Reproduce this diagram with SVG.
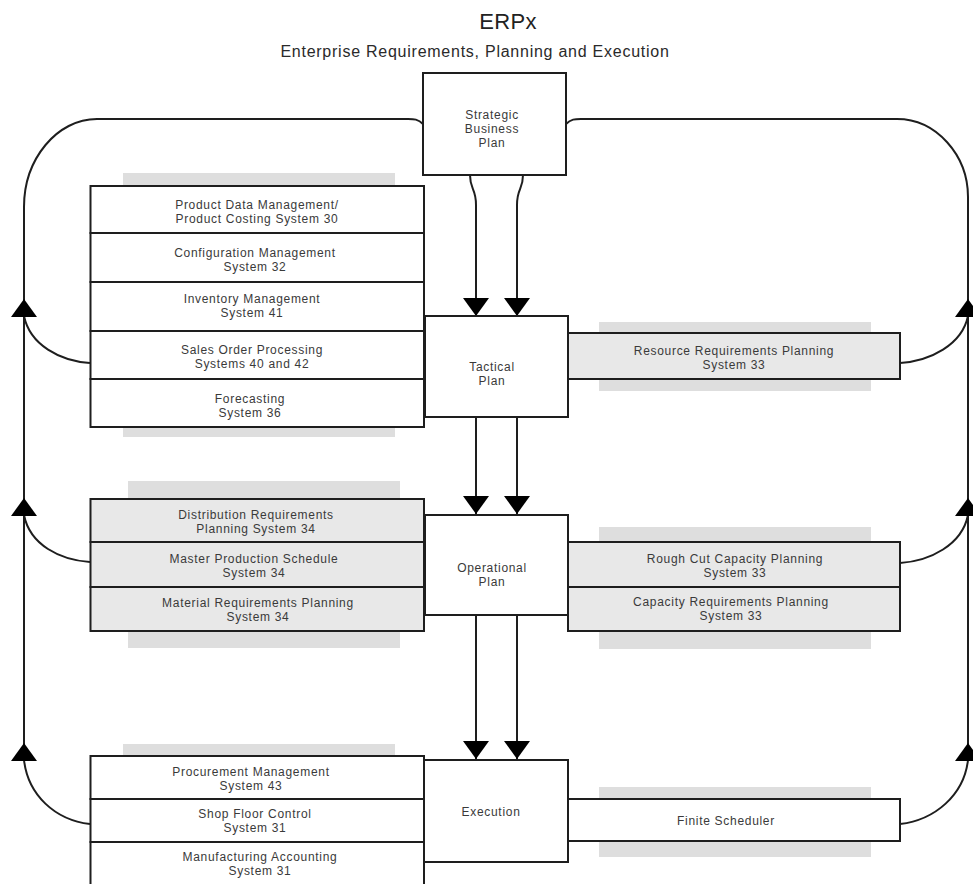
<svg xmlns="http://www.w3.org/2000/svg" width="973" height="884" viewBox="0 0 973 884">
  <style>
    .box{stroke:#1e1e1e;stroke-width:2}
    .w{fill:#ffffff}
    .g{fill:#e8e8e8}
    .sh{fill:#dedede;stroke:none}
    .t{font-family:"Liberation Sans",Arial,sans-serif;font-size:12px;fill:#3a3a3a;text-anchor:middle;letter-spacing:0.7px}
    .wire{fill:none;stroke:#1e1e1e;stroke-width:2}
    .head{fill:#000000}
  </style>
  <defs>
    <marker id="arrow" markerUnits="userSpaceOnUse" viewBox="0 -13 18 26" refX="18" refY="0" markerWidth="18" markerHeight="26" orient="auto">
      <path class="head" d="M0,-13 L18,0 L0,13 Z"/>
    </marker>
  </defs>

  <rect x="0" y="0" width="973" height="884" fill="#ffffff"/>

  <!-- heading -->
  <g id="heading">
    <text x="508" y="29" style="font-family:'Liberation Sans',Arial,sans-serif;font-size:22px;fill:#222;text-anchor:middle;letter-spacing:0.3px">ERPx</text>
    <text x="475" y="57" style="font-family:'Liberation Sans',Arial,sans-serif;font-size:16px;fill:#2a2a2a;text-anchor:middle;letter-spacing:0.75px">Enterprise Requirements, Planning and Execution</text>
  </g>

  <!-- drop shadows behind the side stacks -->
  <g id="shadows">
    <rect class="sh" x="123" y="173" width="272" height="264"/>
    <rect class="sh" x="599" y="322" width="272" height="69"/>
    <rect class="sh" x="128" y="481" width="272" height="167"/>
    <rect class="sh" x="599" y="527" width="272" height="122"/>
    <rect class="sh" x="123" y="744" width="272" height="150"/>
    <rect class="sh" x="599" y="787" width="272" height="70"/>
  </g>

  <!-- connectors -->
  <g id="connectors">
    <!-- feedback loop around the plan levels -->
    <path class="wire" d="M423,124 C418,119 414,119 408,119 L97,119 C57,119 24,159 24,207 L24,745"/>
    <path class="wire" d="M566,124 C571,119 575,119 581,119 L897,119 C936,119 968,155 968,197 L968,745"/>
    <!-- side systems feeding the loop -->
    <path class="wire" marker-end="url(#arrow)" d="M90,363 C60,361 30,345 24,316 L24,299"/>
    <path class="wire" marker-end="url(#arrow)" d="M90,562 C60,560 30,545 24,515 L24,498"/>
    <path class="wire" marker-end="url(#arrow)" d="M90,824 C55,820 28,795 24,760 L24,743"/>
    <path class="wire" marker-end="url(#arrow)" d="M900,363 C930,361 962,345 968,316 L968,299"/>
    <path class="wire" marker-end="url(#arrow)" d="M900,563 C930,561 962,545 968,515 L968,498"/>
    <path class="wire" marker-end="url(#arrow)" d="M900,824 C935,820 964,795 968,760 L968,743"/>
    <!-- plan cascade -->
    <path class="wire" marker-end="url(#arrow)" d="M470,175 C470,190 476,188 476,205 L476,316"/>
    <path class="wire" marker-end="url(#arrow)" d="M523,175 C523,190 517,188 517,205 L517,316"/>
    <path class="wire" marker-end="url(#arrow)" d="M476,417 L476,514"/>
    <path class="wire" marker-end="url(#arrow)" d="M517,417 L517,514"/>
    <path class="wire" marker-end="url(#arrow)" d="M476,615 L476,759"/>
    <path class="wire" marker-end="url(#arrow)" d="M517,615 L517,759"/>
  </g>

  <!-- tactical-level systems (left) -->
  <g id="pdm">
    <rect class="box w" x="90.5" y="186" width="333.5" height="47"/>
    <text class="t" x="257" y="209">Product Data Management/</text>
    <text class="t" x="257" y="223">Product Costing System 30</text>
  </g>
  <g id="config">
    <rect class="box w" x="90.5" y="233" width="333.5" height="49"/>
    <text class="t" x="255" y="257">Configuration Management</text>
    <text class="t" x="255" y="271">System 32</text>
  </g>
  <g id="inventory">
    <rect class="box w" x="90.5" y="282" width="333.5" height="49"/>
    <text class="t" x="252" y="303">Inventory Management</text>
    <text class="t" x="252" y="317">System 41</text>
  </g>
  <g id="sales">
    <rect class="box w" x="90.5" y="331" width="333.5" height="48"/>
    <text class="t" x="252" y="354">Sales Order Processing</text>
    <text class="t" x="252" y="368">Systems 40 and 42</text>
  </g>
  <g id="forecasting">
    <rect class="box w" x="90.5" y="379" width="333.5" height="48"/>
    <text class="t" x="250" y="403">Forecasting</text>
    <text class="t" x="250" y="417">System 36</text>
  </g>

  <!-- operational-level systems (left) -->
  <g id="drp">
    <rect class="box g" x="90.5" y="499" width="333.5" height="43"/>
    <text class="t" x="256" y="519">Distribution Requirements</text>
    <text class="t" x="256" y="533">Planning System 34</text>
  </g>
  <g id="mps">
    <rect class="box g" x="90.5" y="542" width="333.5" height="45"/>
    <text class="t" x="254" y="563">Master Production Schedule</text>
    <text class="t" x="254" y="577">System 34</text>
  </g>
  <g id="mrp">
    <rect class="box g" x="90.5" y="587" width="333.5" height="44"/>
    <text class="t" x="258" y="607">Material Requirements Planning</text>
    <text class="t" x="258" y="621">System 34</text>
  </g>

  <!-- execution-level systems (left) -->
  <g id="procurement">
    <rect class="box w" x="90.5" y="756" width="333.5" height="43"/>
    <text class="t" x="251" y="776">Procurement Management</text>
    <text class="t" x="251" y="790">System 43</text>
  </g>
  <g id="shopfloor">
    <rect class="box w" x="90.5" y="799" width="333.5" height="43"/>
    <text class="t" x="255" y="818">Shop Floor Control</text>
    <text class="t" x="255" y="832">System 31</text>
  </g>
  <g id="accounting">
    <rect class="box w" x="90.5" y="842" width="333.5" height="44"/>
    <text class="t" x="260" y="861">Manufacturing Accounting</text>
    <text class="t" x="260" y="875">System 31</text>
  </g>

  <!-- right-hand systems -->
  <g id="resource">
    <rect class="box g" x="568" y="333" width="332" height="46"/>
    <text class="t" x="734" y="355">Resource Requirements Planning</text>
    <text class="t" x="734" y="369">System 33</text>
  </g>
  <g id="roughcut">
    <rect class="box g" x="568" y="542" width="332" height="45"/>
    <text class="t" x="735" y="563">Rough Cut Capacity Planning</text>
    <text class="t" x="735" y="577">System 33</text>
  </g>
  <g id="crp">
    <rect class="box g" x="568" y="587" width="332" height="44"/>
    <text class="t" x="731" y="606">Capacity Requirements Planning</text>
    <text class="t" x="731" y="620">System 33</text>
  </g>
  <g id="finite">
    <rect class="box w" x="568" y="799" width="332" height="42"/>
    <text class="t" x="726" y="825">Finite Scheduler</text>
  </g>

  <!-- plan levels -->
  <g id="strategic">
    <rect class="box w" x="423" y="73" width="143" height="102"/>
    <text class="t" x="492" y="119">Strategic</text>
    <text class="t" x="492" y="133">Business</text>
    <text class="t" x="492" y="147">Plan</text>
  </g>
  <g id="tactical">
    <rect class="box w" x="425" y="316" width="143" height="101"/>
    <text class="t" x="492" y="371">Tactical</text>
    <text class="t" x="492" y="385">Plan</text>
  </g>
  <g id="operational">
    <rect class="box w" x="425" y="515" width="143" height="100"/>
    <text class="t" x="492" y="572">Operational</text>
    <text class="t" x="492" y="586">Plan</text>
  </g>
  <g id="execution">
    <rect class="box w" x="424" y="760" width="144" height="102"/>
    <text class="t" x="491" y="816">Execution</text>
  </g>
</svg>
